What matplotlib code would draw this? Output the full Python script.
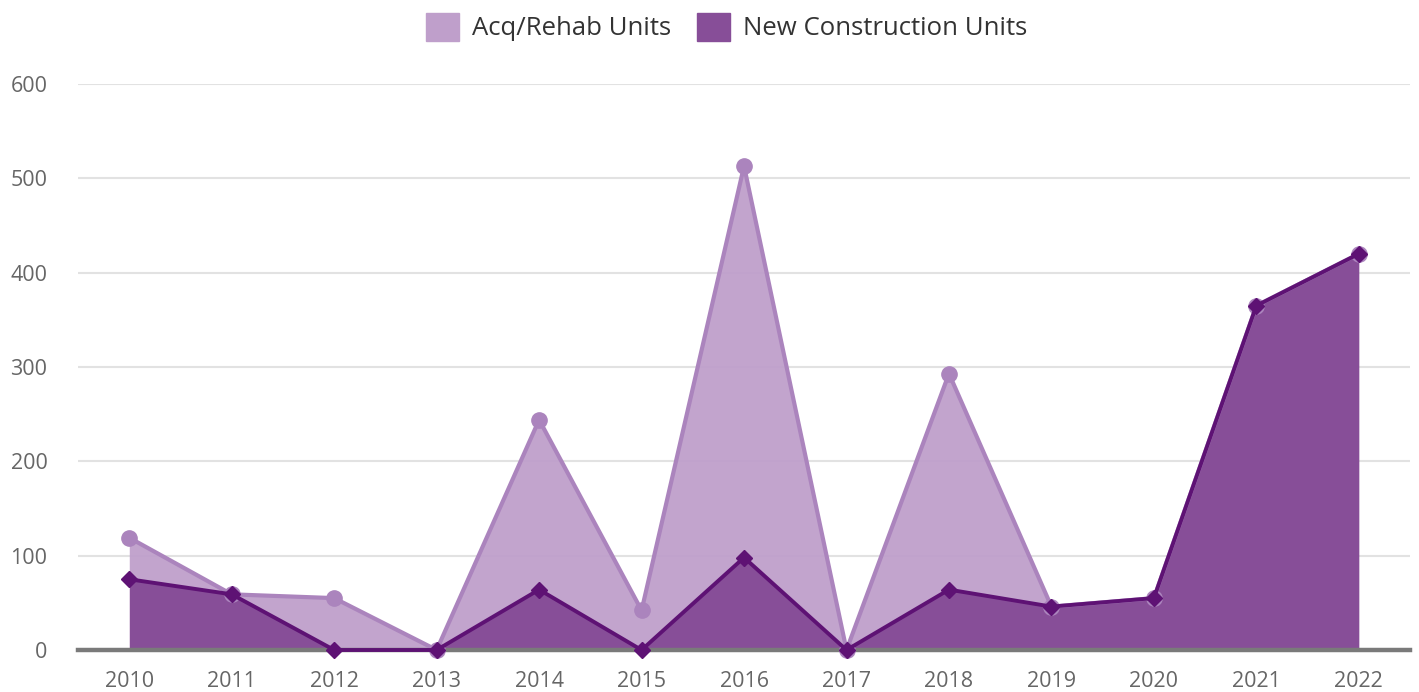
import matplotlib.pyplot as plt
import numpy as np

plt.rcParams['font.family'] = ['Open Sans', 'DejaVu Sans']

years = ['2010', '2011', '2012', '2013', '2014', '2015', '2016',
         '2017', '2018', '2019', '2020', '2021', '2022']
# values (stacked areas)
new_construction = [75, 59, 0, 0, 64, 0, 98, 0, 64, 46, 55, 365, 420]
acq_rehab = [44, 0, 55, 0, 180, 42, 415, 0, 229, 0, 0, 0, 0]

acq_fill = '#bf9fcb'
acq_line = '#ab84bd'
new_fill = '#874e98'
new_line = '#5e1274'

x = np.arange(len(years))
new = np.array(new_construction)
total = new + np.array(acq_rehab)

fig = plt.figure(figsize=(14.19, 6.92), dpi=100)
ax = fig.add_axes([0.055, 0.0607, 0.9387, 0.8179])

ax.fill_between(x, new, total, color=acq_fill, alpha=0.95, linewidth=0, zorder=2)
ax.fill_between(x, 0, new, color=new_fill, linewidth=0, zorder=2)
ax.axhline(0, color='#7a7a7a', lw=3.2, zorder=2.5, clip_on=False)
ax.plot(x, total, color=acq_line, lw=3, marker='o', markersize=11,
        zorder=3, solid_joinstyle='round', clip_on=False)
ax.plot(x, new, color=new_line, lw=2.8, marker='D', markersize=8,
        zorder=4, solid_joinstyle='round', clip_on=False)

ax.set_xlim(-0.5, len(years) - 0.5)
ax.set_ylim(0, 600)
ax.set_xticks(x)
ax.set_xticklabels(years)
ax.set_yticks(range(0, 601, 100))
ax.grid(axis='y', color='#e2e2e2', lw=1.5, zorder=0)
ax.set_axisbelow(True)
for s in ax.spines.values():
    s.set_visible(False)
ax.tick_params(axis='both', length=0, labelsize=15.5, labelcolor='#666666')
ax.tick_params(axis='x', pad=15)
ax.tick_params(axis='y', pad=22)

handles = [plt.Rectangle((0, 0), 1, 1, color=acq_fill),
           plt.Rectangle((0, 0), 1, 1, color=new_fill)]
fig.legend(handles, ['Acq/Rehab Units', 'New Construction Units'],
           loc='center', bbox_to_anchor=(0.512, 0.961), ncol=2, frameon=False,
           fontsize=18.5, handlelength=1.3, handleheight=1.3, handletextpad=0.5,
           columnspacing=1.0, labelcolor='#333333')

fig.savefig('out.png', dpi=100)
